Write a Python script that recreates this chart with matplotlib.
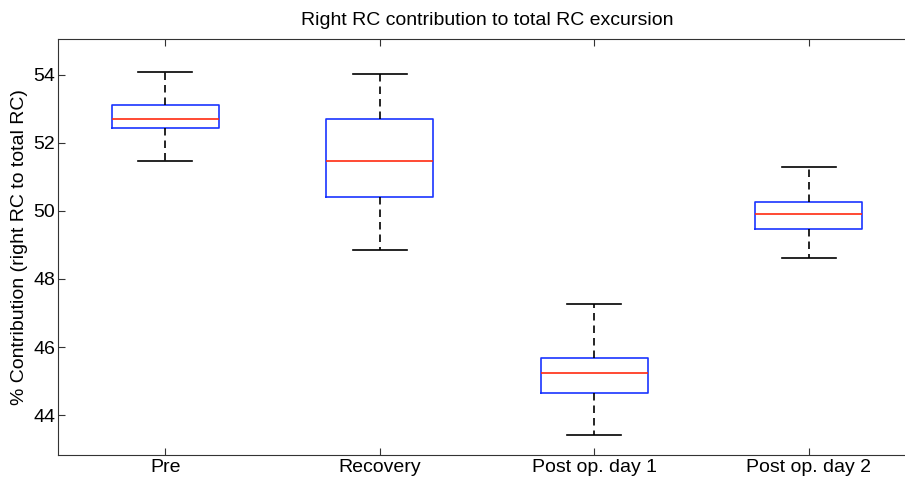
import matplotlib
matplotlib.use("Agg")
import matplotlib.pyplot as plt

plt.rcParams['font.family'] = ['Liberation Sans', 'DejaVu Sans']

categories = ["Pre", "Recovery", "Post op. day 1", "Post op. day 2"]
whisker_low = [51.47, 48.85, 43.41, 48.63]
q1 = [52.45, 50.41, 44.66, 49.46]
median = [52.70, 51.47, 45.24, 49.91]
q3 = [53.10, 52.69, 45.69, 50.27]
whisker_high = [54.07, 54.02, 47.26, 51.28]

stats = []
for i, name in enumerate(categories):
    stats.append(dict(label=name, whislo=whisker_low[i], q1=q1[i], med=median[i],
                      q3=q3[i], whishi=whisker_high[i], fliers=[]))

fig = plt.figure(figsize=(9.05, 4.79), dpi=100)
ax = fig.add_axes([58 / 905, 23.7 / 479, 858 / 905, 416.3 / 479])

ax.bxp(stats, positions=[1, 2, 3, 4], widths=0.5, showfliers=False,
       boxprops=dict(color='#1a35ff', linewidth=1.2),
       medianprops=dict(color='#ff2a10', linewidth=1.2),
       whiskerprops=dict(color='black', linewidth=1.2, linestyle=(0, (4.5, 3))),
       capprops=dict(color='black', linewidth=1.2),
       capwidths=0.25)

ax.set_xlim(0.5, 4.5)
ax.set_ylim(42.82, 55.05)
ax.set_yticks([44, 46, 48, 50, 52, 54])
ax.set_xticks([1, 2, 3, 4])
ax.set_xticklabels(categories)
ax.tick_params(direction='in', length=5, width=0.8, labelsize=14, colors='#333333',
               labelcolor='black', top=True, right=False)
ax.tick_params(axis='x', pad=3)
ax.tick_params(axis='y', pad=2)
for s in ax.spines.values():
    s.set_color('#333333')
    s.set_linewidth(0.8)
ax.spines['right'].set_visible(False)

ax.set_title("Right RC contribution to total RC excursion", fontsize=14, pad=10)
ax.set_ylabel("% Contribution (right RC to total RC)", fontsize=14, labelpad=4)

fig.savefig("out.png", dpi=100)
